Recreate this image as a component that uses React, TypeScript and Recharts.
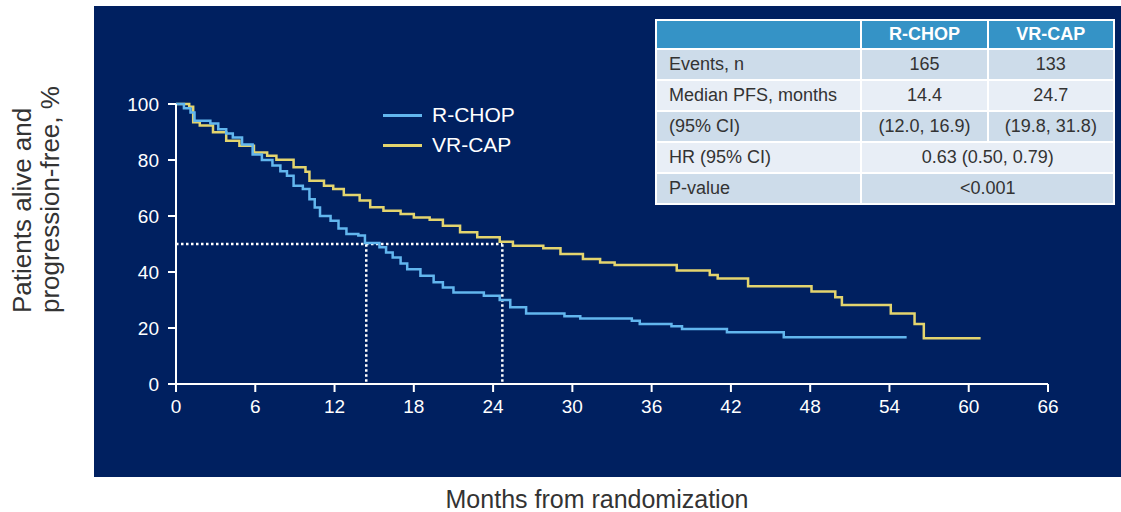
import React from "react";
import { LineChart, Line, XAxis, YAxis, ReferenceLine } from "recharts";

if (typeof document !== "undefined") {
  document.body.style.margin = "0";
}

const rchopMonths = [0, 0.6, 1.1, 1.4, 2.6, 3.2, 3.8, 4.3, 5.0, 5.8, 6.5, 7.3, 7.9, 8.4, 8.9, 9.6, 10.1, 10.5, 10.9, 11.7, 12.3, 12.9, 13.8, 14.3, 15.4, 15.9, 16.4, 17.0, 17.5, 18.5, 19.5, 20.2, 21.0, 23.3, 24.5, 25.3, 26.5, 29.4, 30.6, 34.5, 35.1, 37.5, 38.3, 41.7, 46.0, 55.3];
const rchopPfs = [100, 98.5, 97, 94, 93, 91, 89.5, 88, 85.5, 82, 80, 78, 76, 74.4, 70.8, 69.6, 66, 63, 60, 58.3, 55.5, 53.6, 53, 50.4, 48.8, 47, 45.2, 43, 41, 38.7, 36.3, 34.5, 32.7, 31.5, 30, 27.4, 25.2, 24.2, 23.4, 22.6, 21.4, 20.6, 19.6, 18.5, 16.7, 16.7];

const vrcapMonths = [0, 1.0, 1.3, 1.8, 2.8, 3.8, 4.8, 5.9, 6.9, 7.6, 8.9, 9.8, 10.1, 11.2, 11.9, 12.7, 13.9, 14.7, 15.7, 17.0, 18.0, 19.2, 20.2, 21.5, 22.8, 24.5, 25.5, 27.8, 29.1, 30.8, 32.1, 33.2, 37.9, 40.4, 41.0, 43.3, 48.1, 49.9, 50.4, 54.1, 55.9, 56.6, 60.9];
const vrcapPfs = [100, 99, 93.5, 92.3, 89.9, 86.9, 85.1, 82.7, 81.5, 80.1, 77.4, 75.8, 72.6, 70.8, 69.6, 67.5, 65.5, 63.1, 61.9, 60.7, 59.5, 58.7, 56.5, 54.2, 52.4, 50.8, 49.4, 48.5, 46.4, 44.6, 43.4, 42.5, 40.5, 38.9, 37.7, 34.9, 33, 31, 28.2, 25.2, 21.4, 16.3, 16.3];

const xTicks = [0, 6, 12, 18, 24, 30, 36, 42, 48, 54, 60, 66];
const yTicks = [0, 20, 40, 60, 80, 100];

const medians = [14.4, 24.7];

const tableHeader = ["", "R-CHOP", "VR-CAP"];
const tableRows = [
  ["Events, n", "165", "133"],
  ["Median PFS, months", "14.4", "24.7"],
  ["(95% CI)", "(12.0, 16.9)", "(19.8, 31.8)"],
  ["HR (95% CI)", "0.63 (0.50, 0.79)"],
  ["P-value", "<0.001"],
];

const rchopData = rchopMonths.map((t, i) => ({ t, v: rchopPfs[i] }));
const vrcapData = vrcapMonths.map((t, i) => ({ t, v: vrcapPfs[i] }));

const FONT = '"Liberation Sans", Arial, sans-serif';
const NAVY = "#002060";
const BLUE = "#62b6ee";
const YELLOW = "#e3d46e";

const series = [
  { name: "R-CHOP", color: BLUE },
  { name: "VR-CAP", color: YELLOW },
];

function LegendBox() {
  return (
    <div style={{ position: "absolute", left: 383, top: 100, fontFamily: FONT }}>
      {series.map((s) => (
        <div key={s.name} style={{ display: "flex", alignItems: "center", height: 30 }}>
          <div style={{ width: 39, height: 3, background: s.color, marginRight: 10 }} />
          <span style={{ color: "#fff", fontSize: 21 }}>{s.name}</span>
        </div>
      ))}
    </div>
  );
}

// two-line rotated y label, both lines start at the bottom
function YLabel() {
  const by = 313;
  const lines = [
    { x: 22, text: "Patients alive and" },
    { x: 50, text: "progression-free, %" },
  ];
  return (
    <g>
      {lines.map((l) => (
        <text key={l.text} x={l.x} y={by} transform={`rotate(-90 ${l.x} ${by})`} textAnchor="start" dominantBaseline="central" fill="#333" fontSize={26} fontFamily={FONT}>
          {l.text}
        </text>
      ))}
    </g>
  );
}

function XLabel() {
  return (
    <text x={597} y={499} textAnchor="middle" dominantBaseline="central" fill="#333" fontSize={25} fontFamily={FONT}>
      Months from randomization
    </text>
  );
}

function StatsTable() {
  const cell: React.CSSProperties = { padding: 0, fontSize: 18, color: "#333", fontFamily: FONT, whiteSpace: "nowrap" };
  return (
    <table
      style={{
        position: "absolute",
        left: 655,
        top: 19,
        width: 460,
        background: "#fff",
        borderSpacing: 2,
        borderCollapse: "separate",
        tableLayout: "fixed",
      }}
    >
      <tbody>
        <tr style={{ height: 27 }}>
          {tableHeader.map((h, i) => (
            <td key={i} style={{ ...cell, background: "#3593c6", color: "#fff", fontWeight: "bold", textAlign: "center", width: i === 0 ? 203 : 124 }}>
              {h}
            </td>
          ))}
        </tr>
        {tableRows.map((row, r) => (
          <tr key={r} style={{ height: 29 }}>
            {row.map((c, i) => (
              <td
                key={i}
                colSpan={row.length === 2 && i === 1 ? 2 : 1}
                style={{
                  ...cell,
                  background: r % 2 === 0 ? "#cddcea" : "#e8eef6",
                  textAlign: i === 0 ? "left" : "center",
                  paddingLeft: i === 0 ? 12 : 0,
                }}
              >
                {c}
              </td>
            ))}
          </tr>
        ))}
      </tbody>
    </table>
  );
}

export default function App() {
  const tick = { fill: "#fff", fontSize: 19, fontFamily: FONT };
  return (
    <div style={{ position: "relative", width: 1121, height: 512, overflow: "hidden", background: "#fff" }}>
      <div style={{ position: "absolute", left: 94, top: 6, width: 1027, height: 471, background: NAVY }} />
      <div style={{ position: "absolute", left: 0, top: 0 }}>
        <LineChart width={1121} height={512} margin={{ top: 104, right: 73, bottom: 98, left: 94 }}>
          <XAxis
            type="number"
            dataKey="t"
            domain={[0, 66]}
            ticks={xTicks}
            interval={0}
            allowDataOverflow
            stroke="#fff"
            strokeWidth={2}
            tickSize={8}
            tick={tick}
            tickMargin={8}
            height={30}
            label={<XLabel />}
          />
          <YAxis
            type="number"
            dataKey="v"
            domain={[0, 100]}
            ticks={yTicks}
            interval={0}
            stroke="#fff"
            strokeWidth={2}
            tickSize={8}
            tick={tick}
            tickMargin={9}
            width={82}
            label={<YLabel />}
          />
          <ReferenceLine
            segment={[{ x: 0, y: 50 }, { x: medians[1], y: 50 }]}
            stroke="#fff"
            strokeWidth={2.5}
            strokeDasharray="2.5 2.5"
          />
          {medians.map((m) => (
            <ReferenceLine
              key={m}
              segment={[{ x: m, y: 0.8 }, { x: m, y: 50 }]}
              stroke="#fff"
              strokeWidth={2.5}
              strokeDasharray="2.5 2.5"
            />
          ))}
          <Line data={vrcapData} dataKey="v" name="VR-CAP" type="stepAfter" stroke={YELLOW} strokeWidth={2.5} dot={false} isAnimationActive={false} />
          <Line data={rchopData} dataKey="v" name="R-CHOP" type="stepAfter" stroke={BLUE} strokeWidth={2.5} dot={false} isAnimationActive={false} />
        </LineChart>
      </div>
      <LegendBox />
      <StatsTable />
    </div>
  );
}
